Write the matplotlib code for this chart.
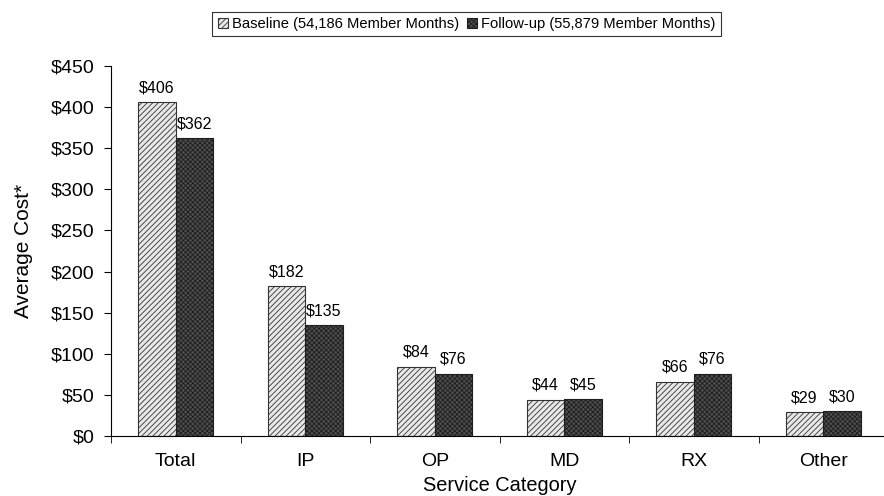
import matplotlib
matplotlib.use("Agg")
import matplotlib.pyplot as plt
import numpy as np

plt.rcParams['font.family'] = ['Liberation Sans', 'DejaVu Sans']
plt.rcParams['hatch.linewidth'] = 0.6

categories = ["Total", "IP", "OP", "MD", "RX", "Other"]
baseline = [406, 182, 84, 44, 66, 29]
followup = [362, 135, 76, 45, 76, 30]
series_names = ["Baseline (54,186 Member Months)", "Follow-up (55,879 Member Months)"]
yticks = [0, 50, 100, 150, 200, 250, 300, 350, 400, 450]

fig = plt.figure(figsize=(8.84, 4.96), dpi=100)
ax = fig.add_axes([111 / 884, 60 / 496, 777 / 884, 370 / 496])

x = np.arange(len(categories))
w = 0.29
b1 = ax.bar(x - w / 2, baseline, w, color="#e8e8e8", edgecolor="#333333",
            hatch="//////", linewidth=0.8, label=series_names[0])
b2 = ax.bar(x + w / 2, followup, w, color="#4e4e4e", edgecolor="#1e1e1e",
            hatch="xxxxxxx", linewidth=0.8, label=series_names[1])

# value labels over each bar
for xi, v in zip(x, baseline):
    ax.annotate(f"${v}", (xi - w / 2, v), xytext=(0, 5), textcoords="offset points",
                ha="center", va="bottom", fontsize=11.5)
for xi, v in zip(x, followup):
    ax.annotate(f"${v}", (xi + w / 2, v), xytext=(0, 5), textcoords="offset points",
                ha="center", va="bottom", fontsize=11.5)

ax.set_xlim(-0.5, len(categories) - 0.5)
ax.set_ylim(0, 450)
ax.set_yticks(yticks)
ax.set_yticklabels([f"${t}" for t in yticks], fontsize=14)
ax.set_xticks(x)
ax.set_xticklabels(categories, fontsize=14)
ax.set_xticks(np.arange(len(categories) + 1) - 0.5, minor=True)
ax.tick_params(axis="x", which="major", length=0, pad=12)
ax.tick_params(axis="x", which="minor", length=5, direction="out")
ax.tick_params(axis="y", length=5, direction="out", pad=7)

for s in ["top", "right"]:
    ax.spines[s].set_visible(False)
ax.spines["left"].set_linewidth(0.8)
ax.spines["bottom"].set_linewidth(0.8)

ax.set_ylabel("Average Cost*", fontsize=15, va="center")
ax.yaxis.set_label_coords(-0.113, 0.5)
ax.set_xlabel("Service Category", fontsize=14.4, va="center")
ax.xaxis.set_label_coords(0.5, -0.135)

leg = fig.legend(handles=[b1, b2], loc="center right", bbox_to_anchor=(721 / 884, 1 - 24 / 496),
                 ncol=2, fontsize=10.6, frameon=True, fancybox=False, edgecolor="black",
                 handlelength=0.7, handleheight=0.7, handletextpad=0.3, columnspacing=0.5,
                 borderpad=0.35, borderaxespad=0)
leg.get_frame().set_linewidth(0.8)

fig.savefig("out.png", dpi=100)
